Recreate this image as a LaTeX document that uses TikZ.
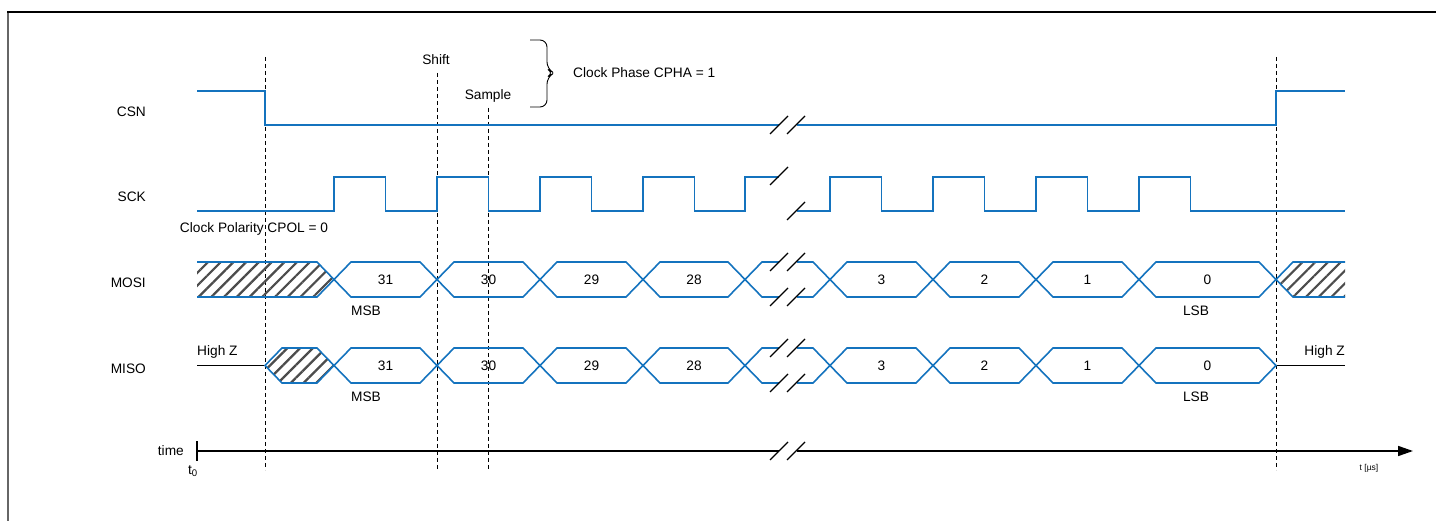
\documentclass[tikz,border=0pt]{standalone}
\usepackage{fontspec}
\setmainfont{Liberation Sans}
\usetikzlibrary{arrows.meta, patterns.meta}
\definecolor{sigblue}{RGB}{20, 115, 190}

\begin{document}
\begin{tikzpicture}[
    x=1pt, y=-1pt,
    sig/.style={draw=sigblue, line width=1.6pt},
    hiz/.style={draw=black, line width=1.7pt},
    brk/.style={draw=black, line width=1.3pt},
    guide/.style={draw=black, line width=0.8pt, dash pattern=on 4pt off 3pt},
    hatch/.style={pattern={Lines[angle=45, distance=9pt, line width=2.2pt]},
                  pattern color=black!70},
    lbl/.style={font=\fontsize{13.7}{16}\selectfont, inner sep=0pt},
    axis/.style={draw=black, line width=1.6pt}
]
    \useasboundingbox (0,0) rectangle (1436,521);
    \draw[black!60, line width=2pt] (8,521) -- (8,12);
    \draw[black, line width=1.5pt] (7,12) -- (1436,12);

    \draw[guide] (265,57) -- (265,470);
    \draw[guide] (1276,57) -- (1276,470);
    \draw[guide] (437,73) -- (437,470);
    \draw[guide] (488,108) -- (488,470);
    \node[lbl] (shift) at (436,60) {Shift};
    \node[lbl] (sample) at (488,96) {Sample};
    \draw[line width=0.9pt, rounded corners=7pt]
        (530,40) -- (547,40) -- (547,69) -- (554,73) -- (547,77) -- (547,107) -- (530,107);
    \node[lbl, anchor=west] (cpha) at (573,73) {Clock Phase CPHA = 1};

    \node[lbl, anchor=east] (csn) at (146,112) {CSN};
    \node[lbl, anchor=east] (sck) at (146,197) {SCK};
    \node[lbl, anchor=east] (mosi) at (146,283) {MOSI};
    \node[lbl, anchor=east] (miso) at (146,369) {MISO};
    \node[lbl] (cpol) at (254,229) {Clock Polarity CPOL = 0};

    \draw[sig] (197,91) -- (265,91) -- (265,125) -- (779,125);
    \draw[sig] (797,125) -- (1276,125) -- (1276,91) -- (1345,91);

    \draw[sig] (197,211) foreach \r in {334,437,540,643} {
        -- (\r,211) -- (\r,177) -- (\r+51.5,177) -- (\r+51.5,211)}
        -- (745,211) -- (745,177) -- (779,177);
    \draw[sig] (797,211) foreach \r in {830,933,1036,1139} {
        -- (\r,211) -- (\r,177) -- (\r+51.5,177) -- (\r+51.5,211)}
        -- (1345,211);

    \fill[hatch] (197,262) -- (317,262) -- (334,279.5) -- (317,297) -- (197,297) -- cycle;
    \draw[sig] (197,262) -- (317,262) -- (334,279.5) -- (317,297) -- (197,297);
    \fill[hatch] (1345,262) -- (1293,262) -- (1276,279.5) -- (1293,297) -- (1345,297) -- cycle;
    \draw[sig] (1345,262) -- (1293,262) -- (1276,279.5) -- (1293,297) -- (1345,297);

    \draw[hiz] (197,365.5) -- (265,365.5);
    \draw[hiz] (1276,365.5) -- (1345,365.5);
    \node[lbl, anchor=west] (hizl) at (197,352) {High Z};
    \node[lbl, anchor=east] (hizr) at (1345,352) {High Z};
    \fill[hatch] (265,365.5) -- (282,348) -- (317,348) -- (334,365.5) -- (317,383) -- (282,383) -- cycle;
    \draw[sig] (265,365.5) -- (282,348) -- (317,348) -- (334,365.5) -- (317,383) -- (282,383) -- cycle;

    \foreach \T/\B/\sn in {262/297/mosi, 348/383/miso} {
        \pgfmathsetmacro\M{(\T+\B)/2}
        \foreach \a/\b/\v in {334/437/31, 437/540/30, 540/643/29, 643/745/28,
                              830/933/3, 933/1036/2, 1036/1139/1, 1139/1276/0} {
            \draw[sig] (\a,\M) -- (\a+17,\T) -- (\b-17,\T) -- (\b,\M)
                -- (\b-17,\B) -- (\a+17,\B) -- cycle;
            \node[lbl] (\sn-\v) at ({(\a+\b)/2},\M) {\v};
        }
        \draw[sig] (779,\T) -- (762,\T) -- (745,\M) -- (762,\B) -- (779,\B);
        \draw[sig] (797,\T) -- (813,\T) -- (830,\M) -- (813,\B) -- (797,\B);
        \foreach \y in {\T,\B}
            \foreach \x in {770,787}
                \draw[brk] (\x,\y+9) -- ++(18,-18);
        \node[lbl] (\sn-msb) at (366,\B+14) {MSB};
        \node[lbl] (\sn-lsb) at (1196,\B+14) {LSB};
    }

    \foreach \x in {770,787}
        \draw[brk] (\x,134) -- ++(18,-18);
    \draw[brk] (770,185) -- ++(18,-18);
    \draw[brk] (787,220) -- ++(18,-18);

    \draw[axis] (197,441) -- (197,461);
    \draw[axis] (197,451) -- (779,451);
    \draw[axis, -{Triangle[length=15pt, width=10pt]}] (797,451) -- (1413,451);
    \foreach \x in {770,787}
        \draw[brk] (\x,460) -- ++(18,-18);
    \node[lbl, anchor=east] (time) at (184,451) {time};
    \node[lbl] (tzero) at (193,471) {t\textsubscript{0}};
    \node[lbl, font=\fontsize{8.5}{10}\selectfont] (tunit) at (1369,468) {t [µs]};
\end{tikzpicture}
\end{document}
